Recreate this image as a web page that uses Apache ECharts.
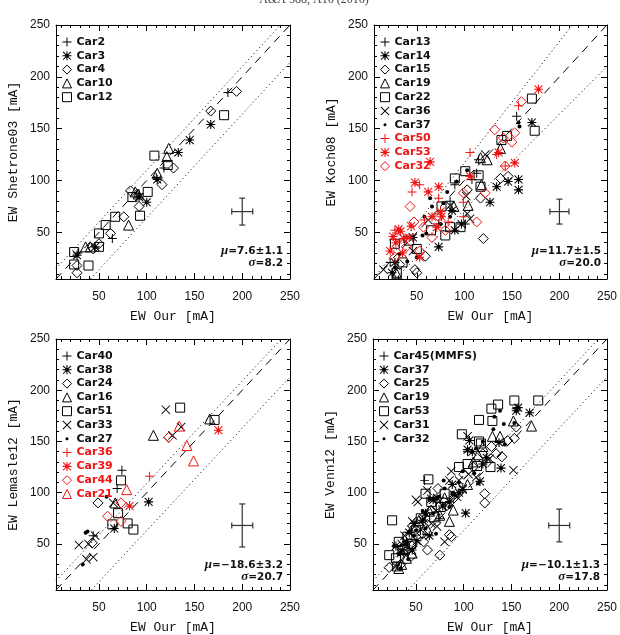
<!DOCTYPE html>
<html>
<head>
<meta charset="utf-8">
<script src="https://cdn.jsdelivr.net/npm/echarts@6/dist/echarts.min.js"></script>
<style>html,body{margin:0;padding:0;background:#fff}#main{width:620px;height:635px}</style>
</head>
<body>
<div id="main"></div>
<script>
// axis range and ticks (mA)
var axisRange = [5, 250];
var majorTicks = [50, 100, 150, 200, 250];
var minorTicks = [10, 20, 30, 40, 60, 70, 80, 90, 110, 120, 130, 140, 160, 170, 180, 190, 210, 220, 230, 240];

// panel 1: Shetrone03
var p1Car2 = [[185,185],[118,112],[110,103],[92,87],[64,44],[28,30]];
var p1Car3 = [[167,154],[145,139],[133,127],[111,101],[100,79],[92,84],[27,28],[46,36]];
var p1Car4 = [[194,186],[167,167],[128,112],[116,96],[83,90],[92,75],[76,65],[62,49],[50,39],[44,34],[27,18],[27,11]];
var p1Car10 = [[123,131],[121,123],[111,107],[88,89],[81,57],[36,36],[41,36],[91,87]];
var p1Car12 = [[108,124],[122,115],[101,89],[93,66],[85,84],[67,65],[50,49],[24,31],[24,19],[39,18],[181,163],[50,36],[57,57]];

// panel 2: Koch08
var p2Car13 = [[115,120],[90,96],[108,101],[73,58],[101,58],[22,21],[155,162],[113,107],[85,80]];
var p2Car14 = [[171,156],[157,101],[157,91],[146,99],[134,94],[127,79],[90,52],[73,36],[46,45],[24,11],[27,21],[87,71],[97,58]];
var p2Car15 = [[120,44],[138,102],[117,83],[59,27],[48,14],[50,11],[32,19],[103,91],[146,104]];
var p2Car19 = [[117,122],[124,120],[138,131],[118,96],[89,75],[104,76],[29,10]];
var p2Car22 = [[171,179],[174,148],[145,143],[139,139],[90,102],[101,109],[115,105],[117,94],[76,75],[80,47],[96,55],[85,55],[27,39],[50,34],[42,42],[29,11],[35,21],[65,52]];
var p2Car36 = [[122,125],[103,68],[106,63],[85,76],[62,62],[46,32],[15,14],[102,85]];
var p2Car37 = [[157,156],[158,152],[103,110],[92,99],[82,89],[64,83],[66,75],[58,65],[75,58],[60,49],[32,29],[50,26],[27,16],[56,47],[78,78],[85,65],[40,22]];
var p2Car50 = [[157,172],[106,127],[134,125],[143,114],[45,89],[53,96],[99,79],[73,83],[27,52],[39,44],[58,62],[83,60],[99,65]];
var p2Car53 = [[178,188],[64,118],[153,117],[48,98],[62,89],[73,94],[106,104],[75,70],[136,127],[31,53],[33,51],[53,26],[22,32],[36,44],[42,45],[71,55],[66,65],[76,65],[28,40],[35,30],[44,56],[25,46]];
var p2Car32 = [[160,176],[132,149],[141,141],[153,146],[150,137],[143,114],[122,88],[113,60],[99,88],[43,75],[57,55],[53,32],[27,26],[39,36],[73,65],[66,45],[80,52],[30,45],[47,60]];

// panel 3: Lemasle12
var p3Car40 = [[74,122],[69,104],[44,58]];
var p3Car38 = [[102,91],[66,65]];
var p3Car24 = [[49,90],[123,154],[43,51]];
var p3Car16 = [[107,156],[166,172],[67,90]];
var p3Car51 = [[135,183],[171,171],[73,112],[70,80],[64,69],[80,70],[86,64]];
var p3Car33 = [[120,181],[136,164],[65,90],[29,49],[39,50],[46,58],[44,37],[37,35],[127,156]];
var p3Car27 = [[58,96],[36,61],[38,62],[33,30]];
var p3Car36 = [[103,116]];
var p3Car39 = [[175,161],[82,87]];
var p3Car44 = [[123,154],[73,90],[59,77],[73,72]];
var p3Car21 = [[134,165],[142,146],[149,131],[79,103]];

// panel 4: Venn12
var p4Car45 = [[59,112],[155,182],[104,140],[75,75]];
var p4Car37 = [[169,178],[157,183],[155,180],[139,124],[117,111],[102,80],[124,134],[104,142],[99,103],[95,100],[78,87],[68,93],[57,73],[43,61],[29,48],[34,41],[46,44],[85,91],[90,98],[109,140],[106,151],[137,149],[120,128],[64,58],[51,53],[60,80],[72,95],[88,108],[48,70],[40,52]];
var p4Car25 = [[122,99],[122,90],[87,57],[85,59],[75,39],[62,44],[46,48],[22,27],[155,164],[153,153],[146,151],[134,138],[129,145],[120,138],[73,104],[82,87],[66,83],[53,68],[41,44],[34,30],[100,118],[140,135],[57,60],[90,95],[110,125],[58,52],[45,38]];
var p4Car19 = [[171,165],[152,170],[138,155],[130,155],[115,137],[104,108],[89,83],[85,72],[64,82],[32,26],[46,41],[53,73],[75,78],[110,130],[40,36],[62,64],[80,95],[120,145],[35,30]];
var p4Car53 = [[178,190],[153,190],[136,186],[129,182],[116,171],[98,157],[116,150],[104,128],[128,125],[114,126],[63,113],[60,99],[80,99],[66,91],[25,73],[32,52],[41,57],[22,39],[29,36],[76,86],[69,76],[36,44],[30,28],[50,63],[118,148],[45,50],[55,75],[95,125],[130,170],[38,45]];
var p4Car31 = [[104,155],[87,121],[152,122],[50,93],[52,91],[46,72],[80,52],[39,44],[85,112],[95,112],[62,102],[99,104],[55,64],[72,67],[29,28],[113,115],[127,133],[66,70],[71,82],[45,64],[93,96],[38,58],[58,75],[75,92],[35,50],[105,118],[66,94]];
var p4Car32 = [[138,180],[132,174],[131,162],[142,167],[153,168],[113,143],[111,119],[115,109],[79,112],[80,104],[74,96],[64,93],[43,62],[50,63],[71,60],[60,65],[36,44],[34,26],[27,48],[32,40],[143,147],[99,121],[88,100],[57,82],[40,51],[48,58],[68,80],[85,86],[95,110],[120,150],[42,35]];

// dotted envelope lines [slope, intercept]
var band1 = [[1.0, 10], [1.0, -36]];
var band2 = [[1.17, 0], [0.92, -20]];
var band3 = [[1.0, 9], [1.0, -37]];
var band4 = [[1.0, 9], [1.0, -37]];

// typical error bars [x, y, errX, errY]
var err1 = [200, 70, 11, 13];
var err2 = [200, 70, 10, 12];
var err3 = [200, 68, 11, 21];
var err4 = [200, 68, 11, 16];

var stats = [['7.6±1.1', '8.2'], ['11.7±1.5', '20.0'], ['−18.6±3.2', '20.7'], ['−10.1±1.3', '17.8']];

var RED = '#f01414';
var BLK = '#000';

var SYM = {
  plus: 'path://M4.45,0H5.55V4.45H10V5.55H5.55V10H4.45V5.55H0V4.45H4.45Z',
  star: 'path://M4.4,0H5.6V4.4H10V5.6H5.6V10H4.4V5.6H0V4.4H4.4Z M1,0.2L5,4.2L9,0.2L9.8,1L5.8,5L9.8,9L9,9.8L5,5.8L1,9.8L0.2,9L4.2,5L0.2,1Z M3,3H7V7H3Z',
  cross: 'path://M0.7,0L5,4.3L9.3,0L10,0.7L5.7,5L10,9.3L9.3,10L5,5.7L0.7,10L0,9.3L4.3,5L0,0.7Z',
  diamond: 'diamond',
  triangle: 'triangle',
  square: 'rect',
  dot: 'circle'
};
// small dot inside a 10x10 box so the legend icon stays small
var DOT_ICON = 'path://M0,0h0.01v0.01h-0.01z M3.3,5a1.7,1.7 0 1,0 3.4,0a1.7,1.7 0 1,0 -3.4,0z M9.99,9.99h0.01v0.01h-0.01z';
var SIZE = {plus: 9, star: 9, cross: 9, diamond: 10, triangle: 10, square: 9, dot: 4};
var HOLLOW = {diamond: true, triangle: true, square: true};

var W = 234, H = 254;
var panels = [
  {left: 56, top: 25, ytitle: 'EW Shetrone03 [mA]', band: band1, err: err1, stat: stats[0],
   sets: [['Car2','plus',BLK,p1Car2],['Car3','star',BLK,p1Car3],['Car4','diamond',BLK,p1Car4],['Car10','triangle',BLK,p1Car10],['Car12','square',BLK,p1Car12]]},
  {left: 374, top: 25, ytitle: 'EW Koch08 [mA]', band: band2, err: err2, stat: stats[1],
   sets: [['Car13','plus',BLK,p2Car13],['Car14','star',BLK,p2Car14],['Car15','diamond',BLK,p2Car15],['Car19','triangle',BLK,p2Car19],['Car22','square',BLK,p2Car22],['Car36','cross',BLK,p2Car36],['Car37','dot',BLK,p2Car37],['Car50','plus',RED,p2Car50],['Car53','star',RED,p2Car53],['Car32','diamond',RED,p2Car32]]},
  {left: 56, top: 339, ytitle: 'EW Lemasle12 [mA]', band: band3, err: err3, stat: stats[2],
   sets: [['Car40','plus',BLK,p3Car40],['Car38','star',BLK,p3Car38],['Car24','diamond',BLK,p3Car24],['Car16','triangle',BLK,p3Car16],['Car51','square',BLK,p3Car51],['Car33','cross',BLK,p3Car33],['Car27','dot',BLK,p3Car27],['Car36','plus',RED,p3Car36],['Car39','star',RED,p3Car39],['Car44','diamond',RED,p3Car44],['Car21','triangle',RED,p3Car21]]},
  {left: 373, top: 339, ytitle: 'EW Venn12 [mA]', band: band4, err: err4, stat: stats[3],
   sets: [['Car45(MMFS)','plus',BLK,p4Car45],['Car37','star',BLK,p4Car37],['Car25','diamond',BLK,p4Car25],['Car19','triangle',BLK,p4Car19],['Car53','square',BLK,p4Car53],['Car31','cross',BLK,p4Car31],['Car32','dot',BLK,p4Car32]]}
];

var labelFont = {fontFamily: 'Liberation Sans', fontSize: 12, color: '#111'};
var titleFont = {fontFamily: 'Liberation Mono', fontSize: 13, color: '#111'};
var legendFont = {fontFamily: 'DejaVu Sans', fontWeight: 'bold', fontSize: 11, color: '#111', lineHeight: 12};

function clipLine(ab) {
  var a = ab[0], b = ab[1], lo = axisRange[0], hi = axisRange[1];
  var x0 = Math.max(lo, (lo - b) / a), x1 = Math.min(hi, (hi - b) / a);
  return [[x0, a * x0 + b], [x1, a * x1 + b]];
}

function crossItem(params, api) {
  var x = api.value(0), y = api.value(1), ex = api.value(2), ey = api.value(3);
  var c = api.coord([x, y]), l = api.coord([x - ex, y]), r = api.coord([x + ex, y]);
  var t = api.coord([x, y + ey]), b = api.coord([x, y - ey]);
  var cap = 3, st = {stroke: '#333', lineWidth: 1.2};
  return {type: 'group', children: [
    {type: 'line', shape: {x1: l[0], y1: c[1], x2: r[0], y2: c[1]}, style: st},
    {type: 'line', shape: {x1: c[0], y1: t[1], x2: c[0], y2: b[1]}, style: st},
    {type: 'line', shape: {x1: l[0], y1: c[1] - cap, x2: l[0], y2: c[1] + cap}, style: st},
    {type: 'line', shape: {x1: r[0], y1: c[1] - cap, x2: r[0], y2: c[1] + cap}, style: st},
    {type: 'line', shape: {x1: c[0] - cap, y1: t[1], x2: c[0] + cap, y2: t[1]}, style: st},
    {type: 'line', shape: {x1: c[0] - cap, y1: b[1], x2: c[0] + cap, y2: b[1]}, style: st}
  ]};
}

function makeAxis(g, dim, pos, major, main) {
  var ax = {
    gridIndex: g, type: 'value', min: axisRange[0], max: axisRange[1], position: pos,
    axisLine: {show: major, lineStyle: {color: '#000', width: 1}},
    axisTick: {show: true, inside: true, length: major ? 6 : 3, customValues: major ? majorTicks : minorTicks,
               lineStyle: {color: '#000', width: 1}},
    axisLabel: {show: false},
    splitLine: {show: false}
  };
  if (main) {
    ax.axisLabel = Object.assign({show: true, customValues: majorTicks, showMinLabel: true, showMaxLabel: true,
                                  margin: dim === 'x' ? 12 : 6}, labelFont);
    ax.nameLocation = 'middle';
    ax.nameTextStyle = titleFont;
    if (dim === 'x') { ax.name = 'EW Our [mA]'; ax.nameGap = 31; }
    else { ax.name = panels[g].ytitle; ax.nameGap = 36; }
  }
  return ax;
}

var grids = [], xAxes = [], yAxes = [], series = [], legends = [], graphics = [];

panels.forEach(function (p, g) {
  grids.push({left: p.left, top: p.top, width: W, height: H});
  xAxes.push(makeAxis(g, 'x', 'bottom', true, true), makeAxis(g, 'x', 'bottom', false, false),
             makeAxis(g, 'x', 'top', true, false), makeAxis(g, 'x', 'top', false, false));
  yAxes.push(makeAxis(g, 'y', 'left', true, true), makeAxis(g, 'y', 'left', false, false),
             makeAxis(g, 'y', 'right', true, false), makeAxis(g, 'y', 'right', false, false));
  var xi = 4 * g, yi = 4 * g;

  series.push({type: 'line', xAxisIndex: xi, yAxisIndex: yi, data: [[axisRange[0], axisRange[0]], [axisRange[1], axisRange[1]]],
               symbol: 'none', silent: true, z: 1, lineStyle: {color: '#000', width: 1, type: [8, 6]}});
  p.band.forEach(function (ab) {
    series.push({type: 'line', xAxisIndex: xi, yAxisIndex: yi, data: clipLine(ab), symbol: 'none', silent: true, z: 1,
                 lineStyle: {color: '#000', width: 1, type: [1, 3]}});
  });
  series.push({type: 'custom', xAxisIndex: xi, yAxisIndex: yi, data: [p.err], renderItem: crossItem, silent: true, z: 2});

  var legendData = [];
  p.sets.forEach(function (s) {
    var name = 'p' + g + '|' + s[0], sym = s[1], col = s[2];
    series.push({
      type: 'scatter', name: name, xAxisIndex: xi, yAxisIndex: yi, data: s[3],
      symbol: SYM[sym], symbolSize: SIZE[sym], z: 3, silent: true,
      itemStyle: HOLLOW[sym] ? {color: 'rgba(0,0,0,0)', borderColor: col, borderWidth: 1, opacity: 1}
                             : {color: col, borderWidth: 0, opacity: 1}
    });
    var item = {name: name, textStyle: {color: col === RED ? RED : '#111'}};
    if (sym === 'dot') item.icon = DOT_ICON;
    legendData.push(item);
  });
  legends.push({
    orient: 'vertical', left: p.left + 6, top: p.top + 11, padding: 0, itemGap: 1.8,
    itemWidth: 9, itemHeight: 9, selectedMode: false, data: legendData,
    itemStyle: {borderWidth: 1},
    formatter: function (n) { return n.split('|')[1]; },
    textStyle: legendFont
  });

  var rx = p.left + W - 7, by = p.top + H;
  var rich = {i: {fontStyle: 'italic', fontWeight: 'bold', fontFamily: 'Liberation Serif', fontSize: 13, fill: '#111'}};
  graphics.push(
    {type: 'text', x: rx, y: by - 28, style: {text: '{i|μ}=' + p.stat[0], align: 'right', verticalAlign: 'middle',
      font: 'bold 10.5px "DejaVu Sans"', fill: '#111', rich: rich}},
    {type: 'text', x: rx, y: by - 16, style: {text: '{i|σ}=' + p.stat[1], align: 'right', verticalAlign: 'middle',
      font: 'bold 10.5px "DejaVu Sans"', fill: '#111', rich: rich}}
  );
});

graphics.push({type: 'text', x: 314, y: -6, style: {text: 'A&A 588, A16 (2016)', align: 'center', verticalAlign: 'top',
  font: '12px "Liberation Serif"', fill: '#444'}});

var chart = echarts.init(document.getElementById('main'), null, {renderer: 'canvas'});
chart.setOption({
  animation: false,
  backgroundColor: '#fff',
  grid: grids,
  xAxis: xAxes,
  yAxis: yAxes,
  legend: legends,
  series: series,
  graphic: graphics
});
</script>
</body>
</html>
